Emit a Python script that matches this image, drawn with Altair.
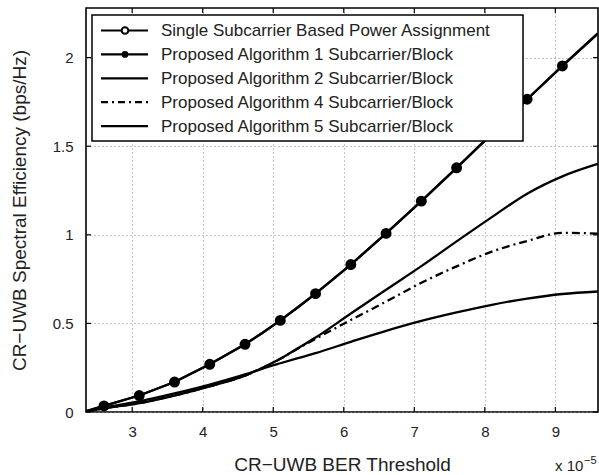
import altair as alt
import pandas as pd

# ---------------- data (x in units of 1e-5) ----------------
x_vals = [2.35, 2.6, 3.1, 3.6, 4.1, 4.6, 4.85, 5.1, 5.35, 5.6, 6.1, 6.6, 7.1, 7.6, 8.1, 8.6, 9.1, 9.6]
single = [0.005, 0.034, 0.093, 0.169, 0.269, 0.382, 0.447, 0.517, 0.591, 0.668, 0.832, 1.008, 1.19, 1.378, 1.57, 1.765, 1.953, 2.135]
alg1 = [0.005, 0.034, 0.093, 0.169, 0.269, 0.382, 0.447, 0.517, 0.591, 0.668, 0.832, 1.008, 1.19, 1.378, 1.57, 1.765, 1.953, 2.135]
alg2 = [0.003, 0.02, 0.05, 0.093, 0.145, 0.205, 0.25, 0.30, 0.36, 0.42, 0.556, 0.69, 0.823, 0.963, 1.10, 1.232, 1.33, 1.40]
alg4 = [0.003, 0.02, 0.05, 0.093, 0.145, 0.205, 0.25, 0.30, 0.358, 0.413, 0.519, 0.623, 0.729, 0.822, 0.905, 0.965, 1.011, 1.007]
alg5 = [0.003, 0.025, 0.06, 0.105, 0.155, 0.212, 0.245, 0.275, 0.304, 0.332, 0.396, 0.458, 0.514, 0.562, 0.605, 0.64, 0.666, 0.68]
marker_x = [2.6, 3.1, 3.6, 4.1, 4.6, 5.1, 5.6, 6.1, 6.6, 7.1, 7.6, 8.1, 8.6, 9.1]

x_ticks = [3, 4, 5, 6, 7, 8, 9]
y_ticks = [0, 0.5, 1, 1.5, 2]

legend_labels = [
    "Single Subcarrier Based Power Assignment",
    "Proposed Algorithm 1 Subcarrier/Block",
    "Proposed Algorithm 2 Subcarrier/Block",
    "Proposed Algorithm 4 Subcarrier/Block",
    "Proposed Algorithm 5 Subcarrier/Block",
]

W, H = 512, 404
FONT = "Liberation Sans"

xs = alt.Scale(domain=[2.345, 9.605], nice=False, zero=False)
ys = alt.Scale(domain=[0, 2.28], nice=False, zero=False)

XT = "CR\u2212UWB BER Threshold"
YT = "CR\u2212UWB Spectral Efficiency (bps/Hz)"

xaxis = alt.Axis(values=x_ticks, grid=True, gridDash=[1, 3], gridColor="#8a8a8a", gridWidth=1,
                 ticks=False, domain=False, labelFont=FONT, labelFontSize=15, labelColor="#222",
                 labelBaseline="alphabetic", labelPadding=24, format="d",
                 titleFont=FONT, titleFontSize=19,
                 titleFontWeight="normal", titleColor="#222", titleBaseline="alphabetic",
                 titleY=58)
yaxis = alt.Axis(values=y_ticks, grid=True, gridDash=[1, 3], gridColor="#8a8a8a", gridWidth=1,
                 ticks=False, domain=False, labelFont=FONT, labelFontSize=15, labelColor="#222",
                 labelPadding=13, format="~g",
                 titleFont=FONT, titleFontSize=19,
                 titleFontWeight="normal", titleColor="#222", titleBaseline="alphabetic",
                 titleAngle=-90, titleX=-61, titleY=H / 2)


def X(field):
    return alt.X(field, type="quantitative", scale=xs, axis=xaxis, title=XT)


def Y(field):
    return alt.Y(field, type="quantitative", scale=ys, axis=yaxis, title=YT)


def frame(yvals):
    return pd.DataFrame({"x": x_vals, "y": yvals})


def mframe(yvals):
    d = frame(yvals)
    return d[d["x"].isin(marker_x)]


# inward ticks (box on all four sides)
xt = pd.DataFrame({"t": x_ticks})
yt = pd.DataFrame({"t": y_ticks})
tick_style = dict(color="black", strokeWidth=1.2)
xt_bot = alt.Chart(xt).mark_rule(**tick_style).encode(x=X("t"), y=alt.value(H), y2=alt.value(H - 5))
xt_top = alt.Chart(xt).mark_rule(**tick_style).encode(x=X("t"), y=alt.value(0), y2=alt.value(5))
yt_l = alt.Chart(yt).mark_rule(**tick_style).encode(y=Y("t"), x=alt.value(0), x2=alt.value(5))
yt_r = alt.Chart(yt).mark_rule(**tick_style).encode(y=Y("t"), x=alt.value(W), x2=alt.value(W - 5))

LW = 2.3


def line(yvals, dash=None, interp="monotone"):
    kw = dict(color="black", strokeWidth=LW, clip=True, interpolate=interp)
    if dash:
        kw["strokeDash"] = dash
    return alt.Chart(frame(yvals)).mark_line(**kw).encode(x=X("x"), y=Y("y"))


l5 = line(alg5)
l4 = line(alg4, [8, 4, 2, 4])
l2 = line(alg2)
l_single = line(single, interp="linear")
p_single = alt.Chart(mframe(single)).mark_point(shape="circle", filled=False, fill="white", color="black",
                                                 strokeWidth=2, size=80, opacity=1, clip=True).encode(
    x=X("x"), y=Y("y"))
l1 = line(alg1, interp="linear")
p1 = alt.Chart(mframe(alg1)).mark_point(shape="circle", filled=True, color="black", size=85,
                                         opacity=1, clip=True).encode(x=X("x"), y=Y("y"))

# ---------------- legend (drawn manually) ----------------
one = pd.DataFrame({"a": [0]})
leg_layers = [alt.Chart(one).mark_rect(fill="white", stroke="black", strokeWidth=1.5).encode(
    x=alt.value(6), x2=alt.value(437), y=alt.value(7), y2=alt.value(133))]
row0, step = 28.3, 23.9
for i, lab in enumerate(legend_labels):
    base_y = row0 + i * step
    ly = base_y - 5.8
    rule_kw = dict(color="black", strokeWidth=2.2)
    if i == 3:
        rule_kw["strokeDash"] = [7, 4, 2, 4]
    leg_layers.append(alt.Chart(one).mark_rule(**rule_kw).encode(
        x=alt.value(15), x2=alt.value(62), y=alt.value(ly)))
    if i == 0:
        leg_layers.append(alt.Chart(one).mark_point(
            shape="circle", filled=False, fill="white", color="black", strokeWidth=2, size=45, opacity=1).encode(
            x=alt.value(39), y=alt.value(ly)))
    if i == 1:
        leg_layers.append(alt.Chart(one).mark_point(
            shape="circle", filled=True, color="black", size=45, opacity=1).encode(
            x=alt.value(39), y=alt.value(ly)))
    leg_layers.append(alt.Chart(pd.DataFrame({"a": [lab]})).mark_text(
        align="left", baseline="alphabetic", font=FONT, fontSize=17, color="#222").encode(
        x=alt.value(75), y=alt.value(base_y), text="a:N"))

# exponent annotation
exp1 = alt.Chart(pd.DataFrame({"a": ["x 10"]})).mark_text(
    align="left", baseline="alphabetic", font=FONT, fontSize=15, color="#222").encode(
    x=alt.value(469), y=alt.value(463), text="a:N")
exp2 = alt.Chart(pd.DataFrame({"a": ["\u22125"]})).mark_text(
    align="left", baseline="alphabetic", font=FONT, fontSize=11, color="#222").encode(
    x=alt.value(498), y=alt.value(456), text="a:N")

chart = alt.layer(
    l5, l4, l2, l_single, p_single, l1, p1,
    xt_bot, xt_top, yt_l, yt_r,
    *leg_layers, exp1, exp2,
).properties(
    width=W, height=H,
    autosize=alt.AutoSizeParams(type="none"),
    padding={"left": 86, "top": 8, "right": 1, "bottom": 475 - 8 - H},
    background="white",
).configure_view(stroke="black", strokeWidth=1.6)

chart.save("out.html", embed_options={"renderer": "svg", "actions": False})
